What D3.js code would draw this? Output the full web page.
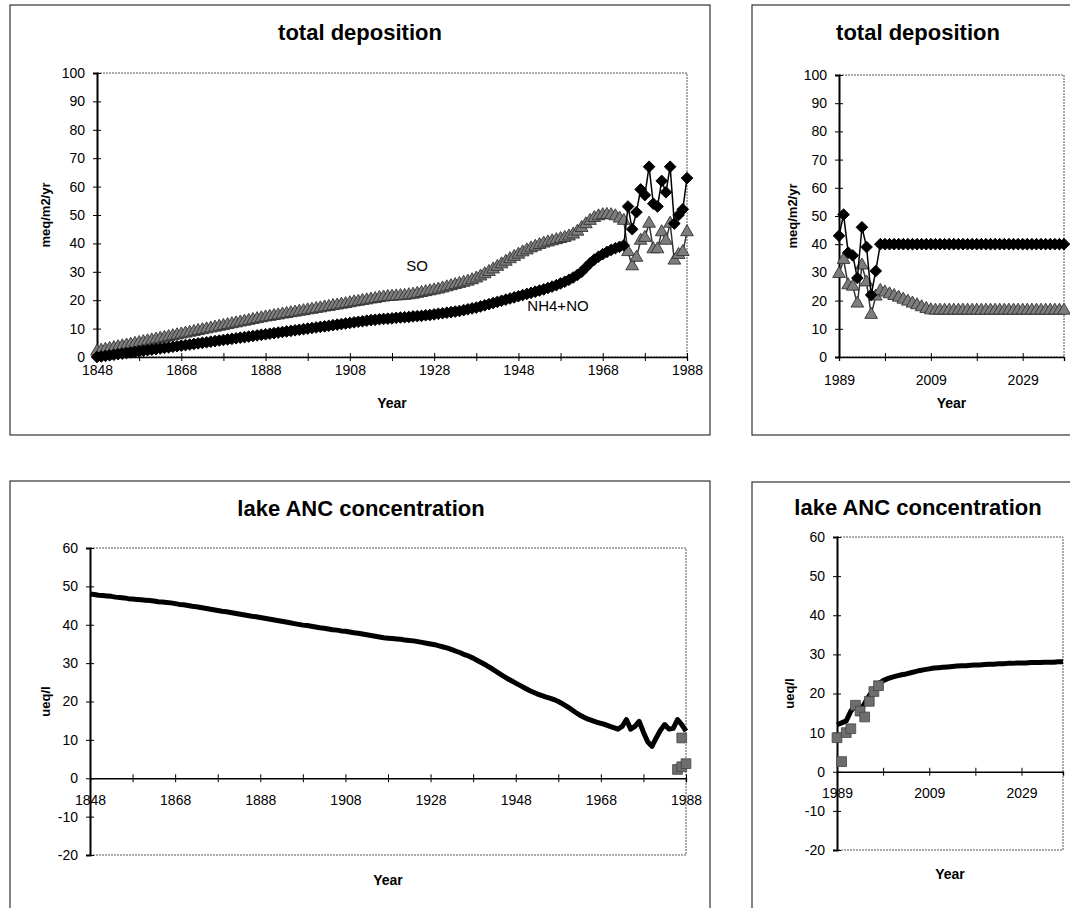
<!DOCTYPE html>
<html>
<head>
<meta charset="utf-8">
<script src="https://cdn.jsdelivr.net/npm/d3@7"></script>
<style>
body { margin: 0; background: #fff; }
svg { display: block; font-family: "Liberation Sans", Arial, sans-serif; }
</style>
</head>
<body>
<svg width="1070" height="908"></svg>
<script>
// years on the category axes
const histYears = d3.range(1848, 1989);
const futYears = d3.range(1989, 2039);

// total deposition, 1848-1988
const histSO = [
  2.0, 2.3, 2.6, 2.9, 3.2, 3.5, 3.8, 4.1, 4.4, 4.7,
  5.0, 5.3, 5.6, 5.9, 6.2, 6.5, 6.8, 7.1, 7.4, 7.7,
  8.0, 8.3, 8.6, 8.9, 9.2, 9.5, 9.8, 10.1, 10.4, 10.7,
  11.0, 11.3, 11.6, 11.9, 12.2, 12.5, 12.8, 13.1, 13.4, 13.7,
  14.0, 14.2, 14.5, 14.7, 15.0, 15.2, 15.5, 15.7, 16.0, 16.2,
  16.5, 16.7, 17.0, 17.2, 17.5, 17.7, 18.0, 18.2, 18.5, 18.7,
  19.0, 19.3, 19.5, 19.8, 20.0, 20.3, 20.5, 20.8, 21.0, 21.2,
  21.3, 21.4, 21.5, 21.6, 21.8, 22.0, 22.3, 22.6, 22.9, 23.2,
  23.5, 23.8, 24.2, 24.6, 25.0, 25.4, 25.8, 26.2, 26.6, 27.1,
  27.7, 28.4, 29.2, 30.0, 30.9, 31.8, 32.7, 33.6, 34.5, 35.3,
  36.1, 36.9, 37.6, 38.3, 38.9, 39.5, 40.0, 40.4, 40.8, 41.2,
  41.6, 42.0, 42.5, 43.2, 44.2, 45.5, 46.8, 48.0, 49.0, 49.6,
  50.0, 50.1, 50.0, 49.6, 48.8,
  48.0,
  37, 32, 35, 41, 42, 47, 38, 38, 44, 41, 47, 34, 36, 37, 44
];
const histNH = [
  0.0, 0.2, 0.4, 0.6, 0.8, 1.0, 1.2, 1.4, 1.6, 1.8,
  2.0, 2.2, 2.4, 2.6, 2.8, 3.0, 3.2, 3.4, 3.6, 3.8,
  4.0, 4.2, 4.4, 4.6, 4.8, 5.0, 5.2, 5.4, 5.6, 5.8,
  6.0, 6.2, 6.4, 6.6, 6.8, 7.0, 7.2, 7.4, 7.6, 7.8,
  8.0, 8.2, 8.4, 8.6, 8.8, 9.0, 9.2, 9.4, 9.6, 9.8,
  10.0, 10.2, 10.4, 10.6, 10.8, 11.0, 11.2, 11.4, 11.6, 11.8,
  12.0, 12.2, 12.4, 12.6, 12.8, 13.0, 13.1, 13.3, 13.4, 13.5,
  13.6, 13.8, 13.9, 14.0, 14.1, 14.3, 14.4, 14.5, 14.7, 14.8,
  15.0, 15.2, 15.4, 15.6, 15.8, 16.0, 16.2, 16.5, 16.8, 17.1,
  17.4, 17.8, 18.2, 18.6, 19.0, 19.4, 19.8, 20.2, 20.6, 21.0,
  21.4, 21.8, 22.2, 22.6, 23.0, 23.4, 23.8, 24.3, 24.8, 25.3,
  25.9, 26.5, 27.2, 28.0, 28.9, 30.0, 31.5, 33.0, 34.3, 35.3,
  36.2, 37.0, 37.7, 38.3, 38.8,
  39.3,
  53, 45, 51, 59, 57, 67, 54, 53, 62, 58, 67, 47, 50, 52, 63
];

// total deposition, 1989-2038
const futSO = [
  29.5, 34.5, 25.5, 25, 19, 32.5, 26.5, 15, 21.5,
  23.5, 22.9, 22.3, 21.7, 21.1, 20.4, 19.7, 19.0, 18.4, 17.7, 17.1, 16.6,
  16.5, 16.5, 16.5, 16.5, 16.5, 16.5, 16.5, 16.5, 16.5, 16.5,
  16.5, 16.5, 16.5, 16.5, 16.5, 16.5, 16.5, 16.5, 16.5, 16.5,
  16.5, 16.5, 16.5, 16.5, 16.5, 16.5, 16.5, 16.5, 16.5
];
const futNH = [
  43, 50.5, 37, 36, 28, 46, 39, 22, 30.5,
  40, 40, 40, 40, 40, 40, 40, 40, 40, 40, 40,
  40, 40, 40, 40, 40, 40, 40, 40, 40, 40,
  40, 40, 40, 40, 40, 40, 40, 40, 40, 40,
  40, 40, 40, 40, 40, 40, 40, 40, 40, 40
];

// lake ANC concentration
const histANC = [
  48.0, 47.9, 47.7, 47.6, 47.5, 47.4, 47.2, 47.1, 47.0, 46.8,
  46.7, 46.6, 46.5, 46.4, 46.3, 46.2, 46.0, 45.9, 45.8, 45.7,
  45.5, 45.3, 45.2, 45.0, 44.8, 44.7, 44.5, 44.3, 44.1, 43.9,
  43.7, 43.5, 43.4, 43.2, 43.0, 42.8, 42.6, 42.4, 42.2, 42.1,
  41.9, 41.7, 41.5, 41.3, 41.1, 40.9, 40.7, 40.5, 40.3, 40.1,
  39.9, 39.8, 39.6, 39.4, 39.2, 39.1, 38.9, 38.7, 38.6, 38.4,
  38.3, 38.1, 37.9, 37.8, 37.6, 37.4, 37.2, 37.0, 36.8, 36.6,
  36.5, 36.4, 36.3, 36.2, 36.0, 35.9, 35.8, 35.6, 35.4, 35.2,
  35.0, 34.8, 34.5, 34.2, 33.9, 33.5, 33.1, 32.7, 32.2, 31.8,
  31.3, 30.7, 30.1, 29.5, 28.8, 28.1, 27.4, 26.7, 26.0, 25.4,
  24.8, 24.2, 23.6, 23.0, 22.5, 22.0, 21.6, 21.2, 20.9, 20.5,
  20.0, 19.4, 18.7, 18.0, 17.2, 16.5, 15.9, 15.4, 15.0, 14.6,
  14.3, 14.0, 13.6, 13.2, 12.8,
  13.5, 15.3, 12.8, 13.5, 14.8, 12.0, 9.5, 8.3, 10.5, 12.5, 14.0, 12.8, 13.0, 15.3, 14.0, 12.3
];
const futANC = [
  12, 12.5, 13, 15.5, 17, 15.5, 17.5, 19.5, 21, 22.5,
  23.3, 23.8, 24.2, 24.5, 24.8, 25, 25.3, 25.6, 25.9, 26.1,
  26.3, 26.5, 26.6, 26.7, 26.8, 26.9, 27, 27.1, 27.1, 27.2,
  27.3, 27.3, 27.4, 27.5, 27.5, 27.6, 27.6, 27.7, 27.7, 27.8,
  27.8, 27.8, 27.9, 27.9, 27.9, 28, 28, 28, 28.1, 28.1
];
const histObsYears = [1986, 1987, 1988, 1987];
const histObs = [2.3, 3.0, 3.8, 10.5];
const futObsYears = [1989, 1990, 1991, 1992, 1993, 1994, 1995, 1996, 1997, 1998];
const futObs = [8.7, 2.6, 10.0, 11.0, 17.0, 15.5, 14.0, 18.0, 20.5, 22.0];

// ticks
const depTicks = [0, 10, 20, 30, 40, 50, 60, 70, 80, 90, 100];
const ancTicks = [-20, -10, 0, 10, 20, 30, 40, 50, 60];
const histTicks = d3.range(1848, 1989, 10);
const histLabels = [1848, 1868, 1888, 1908, 1928, 1948, 1968, 1988];
const futTicks = d3.range(1989, 2039, 10);
const futLabels = [1989, 2009, 2029];

const svg = d3.select("svg");

const diamond = d3.symbol(d3.symbolSquare, 68)();
const triangle = d3.symbol(d3.symbolTriangle, 70)();
const square = d3.symbol(d3.symbolSquare, 95)();

function panel(o) {
  const g = svg.append("g");

  g.append("rect")
    .attr("x", o.bx).attr("y", o.by)
    .attr("width", o.bw).attr("height", o.bh)
    .attr("fill", "none").attr("stroke", "#333").attr("stroke-width", 1.2);

  g.append("text")
    .attr("x", o.tx).attr("y", o.ty)
    .attr("text-anchor", "middle")
    .attr("font-size", 22).attr("font-weight", "bold")
    .text(o.title);

  const x = d3.scaleLinear().domain(o.xdom).range([o.x0, o.x1]);
  const y = d3.scaleLinear().domain(o.ydom).range([o.y1, o.y0]);

  // plot area frame (dotted)
  g.append("path")
    .attr("d", `M${o.x0},${o.y0}H${o.x1}V${o.y1}H${o.x0}`)
    .attr("fill", "none").attr("stroke", "#555")
    .attr("stroke-width", 1).attr("stroke-dasharray", "2,1");

  // y axis
  const ya = g.append("g")
    .attr("transform", `translate(${o.x0},0)`)
    .call(d3.axisLeft(y).tickValues(o.yticks).tickFormat(d => String(d))
      .tickSizeOuter(0).tickSize(4).tickPadding(8));
  ya.select(".domain").attr("stroke", "#000").attr("stroke-width", 2);
  ya.selectAll(".tick line").attr("x1", -4).attr("x2", 4).attr("stroke", "#000");
  ya.selectAll(".tick text").attr("font-size", 14).attr("fill", "#000")
    .attr("font-family", "Liberation Sans, Arial, sans-serif");

  // x axis at zero
  const xa = g.append("g")
    .attr("transform", `translate(0,${y(0)})`)
    .call(d3.axisBottom(x).tickValues(o.xticks).tickSizeOuter(0).tickSize(4)
      .tickFormat(d => o.xlabels.includes(d) ? String(d) : ""));
  xa.select(".domain").attr("stroke", "#000").attr("stroke-width", 1.3);
  xa.selectAll(".tick line").attr("y1", -4).attr("y2", 4).attr("stroke", "#000");
  xa.selectAll(".tick text").attr("font-size", 14).attr("fill", "#000")
    .attr("dy", null).attr("y", o.xlabOff)
    .attr("font-family", "Liberation Sans, Arial, sans-serif");
  // label at the right end of the axis
  if (o.xlabels.includes(o.xdom[1])) {
    xa.append("text").attr("x", x(o.xdom[1])).attr("y", o.xlabOff)
      .attr("text-anchor", "middle").attr("font-size", 14)
      .text(o.xdom[1]);
  }

  g.append("text")
    .attr("x", (o.x0 + o.x1) / 2).attr("y", o.yearY)
    .attr("text-anchor", "middle")
    .attr("font-size", 14).attr("font-weight", "bold")
    .text("Year");

  g.append("text")
    .attr("transform", `translate(${o.ylx},${(o.y0 + o.y1) / 2}) rotate(-90)`)
    .attr("text-anchor", "middle")
    .attr("font-size", 13).attr("font-weight", "bold")
    .text(o.ylabel);

  return { g, x, y };
}

function markerSeries(p, years, vals, o) {
  const pts = years.map((yr, i) => [p.x(yr), p.y(vals[i])]);
  p.g.append("path")
    .attr("d", d3.line()(pts))
    .attr("fill", "none").attr("stroke", o.line).attr("stroke-width", 1.5);
  p.g.append("g").selectAll("path")
    .data(pts).join("path")
    .attr("d", o.shape)
    .attr("transform", d => `translate(${d[0]},${d[1]})${o.rotate ? " rotate(45)" : ""}`)
    .attr("fill", o.fill).attr("stroke", o.stroke).attr("stroke-width", 0.9);
}

function ancSeries(p, years, vals, obsYears, obs) {
  p.g.append("path")
    .attr("d", d3.line().x((d, i) => p.x(years[i])).y(d => p.y(d))(vals))
    .attr("fill", "none").attr("stroke", "#000").attr("stroke-width", 5)
    .attr("stroke-linejoin", "round");
  p.g.append("g").selectAll("path")
    .data(obs).join("path")
    .attr("d", square)
    .attr("transform", (d, i) => `translate(${p.x(obsYears[i])},${p.y(d)})`)
    .attr("fill", "#6e6e6e").attr("stroke", "#444").attr("stroke-width", 0.8);
}

// top left
const tl = panel({
  bx: 10, by: 5, bw: 700, bh: 430, tx: 360, ty: 40, title: "total deposition",
  x0: 97, x1: 687, y0: 73, y1: 357, xdom: [1848, 1988], ydom: [0, 100],
  yticks: depTicks, xticks: histTicks, xlabels: histLabels, xlabOff: 18,
  yearY: 408, ylx: 50, ylabel: "meq/m2/yr"
});
markerSeries(tl, histYears, histSO, { shape: triangle, fill: "#7d7d7d", stroke: "#333", line: "#333" });
markerSeries(tl, histYears, histNH, { shape: diamond, rotate: true, fill: "#000", stroke: "#000", line: "#000" });
tl.g.append("text").attr("x", 417).attr("y", 271).attr("text-anchor", "middle")
  .attr("font-size", 15).text("SO");
tl.g.append("text").attr("x", 558).attr("y", 311).attr("text-anchor", "middle")
  .attr("font-size", 15).text("NH4+NO");

// top right
const tr = panel({
  bx: 752, by: 5, bw: 340, bh: 430, tx: 918, ty: 40, title: "total deposition",
  x0: 839, x1: 1064, y0: 75, y1: 357, xdom: [1989, 2038], ydom: [0, 100],
  yticks: depTicks, xticks: futTicks, xlabels: futLabels, xlabOff: 28,
  yearY: 408, ylx: 797, ylabel: "meq/m2/yr"
});
markerSeries(tr, futYears, futSO, { shape: triangle, fill: "#7d7d7d", stroke: "#333", line: "#333" });
markerSeries(tr, futYears, futNH, { shape: diamond, rotate: true, fill: "#000", stroke: "#000", line: "#000" });

// bottom left
const bl = panel({
  bx: 10, by: 481, bw: 700, bh: 440, tx: 361, ty: 516, title: "lake ANC concentration",
  x0: 90, x1: 686, y0: 548, y1: 855, xdom: [1848, 1988], ydom: [-20, 60],
  yticks: ancTicks, xticks: histTicks, xlabels: histLabels, xlabOff: 27,
  yearY: 885, ylx: 50, ylabel: "ueq/l"
});
ancSeries(bl, histYears, histANC, histObsYears, histObs);

// bottom right
const br = panel({
  bx: 752, by: 482, bw: 340, bh: 440, tx: 918, ty: 515, title: "lake ANC concentration",
  x0: 837, x1: 1063, y0: 537, y1: 850, xdom: [1989, 2038], ydom: [-20, 60],
  yticks: ancTicks, xticks: futTicks, xlabels: futLabels, xlabOff: 26,
  yearY: 879, ylx: 794, ylabel: "ueq/l"
});
ancSeries(br, futYears, futANC, futObsYears, futObs);
</script>
</body>
</html>
